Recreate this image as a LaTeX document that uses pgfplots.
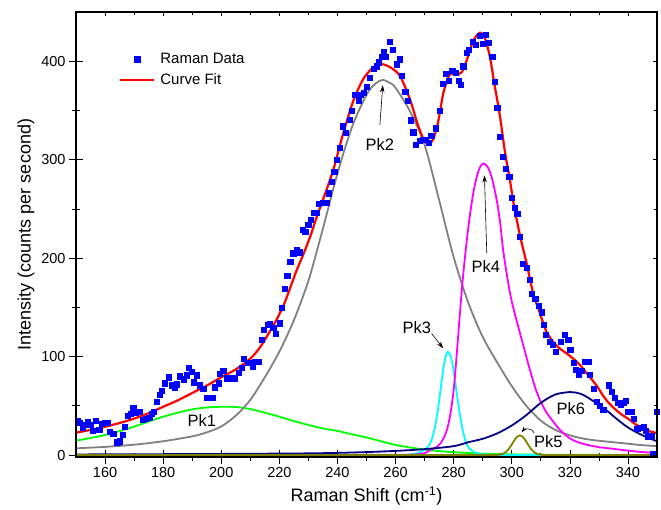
\documentclass[border=0pt]{standalone}
\usepackage{fontspec}
\setmainfont{Liberation Sans}
\usepackage{pgfplots}
\pgfplotsset{compat=1.18}
\usetikzlibrary{arrows.meta}
\definecolor{pkgreen}{RGB}{0,255,0}
\definecolor{pkgray}{RGB}{128,128,128}
\definecolor{pkcyan}{RGB}{0,255,255}
\definecolor{pkmag}{RGB}{255,0,255}
\definecolor{pkolive}{RGB}{128,128,0}
\definecolor{pknavy}{RGB}{0,0,128}
\pgfplotsset{
  legdata/.style={legend image code/.code={\draw[mark repeat=2,mark phase=2,##1] plot coordinates {(0pt,0pt) (17pt,0pt) (34pt,0pt)};}},
  legline/.style={legend image code/.code={\draw[##1] (0pt,0pt) -- (34pt,0pt);}},
  frame/.style={scale only axis, width=581pt, height=445pt,
    xmin=150, xmax=350, ymin=-2, ymax=450,
    xtick={160,180,...,340}, ytick={0,100,...,400},
    minor x tick num=1, minor y tick num=1,
    tick style={black, line width=0.7pt},
    axis line style={black, line width=1.1pt}},
}
\begin{document}
\begin{tikzpicture}
\begin{axis}[
  name=ax, frame,
  tick pos=left,
  tick align=center, major tick length=14pt, minor tick length=8pt,
  xlabel={Raman Shift (cm\textsuperscript{-1})},
  ylabel={Intensity (counts per second)},
  label style={font=\fontsize{18}{21}\selectfont},
  xlabel style={yshift=-2pt},
  tick label style={font=\fontsize{14.5}{17}\selectfont},
  /pgf/number format/assume math mode=true,
  legend style={at={(rel axis cs:0,1)}, anchor=north west, xshift=40pt, yshift=-37pt,
    draw=none, fill=none, font=\fontsize{15}{18}\selectfont, row sep=4.5pt,
    /tikz/every odd column/.append style={column sep=3pt}},
  legend cell align=left,
]
% Pk1
\addplot[pkgreen, line width=1.8pt, smooth, forget plot] coordinates {
(150,14.6)(155,17.3)(160,20.3)(165,24.3)(170,28.8)(175,34)(180,38.9)(185,43)(190,46.4)(195,48.3)(200,49)(205,48.8)(210,46.7)(215,43)(220,38.9)(225,34.5)(230,30.5)(235,27)(240,24.5)(245,21)(250,17.8)(255,14)(260,10.2)(265,7.7)(270,5.5)(275,4)(280,2.9)(285,2.1)(290,1.5)(295,1.0)(300,0.7)(310,0.4)(320,0.2)(335,0.1)(350,0)
};
% Pk2
\addplot[pkgray, line width=1.8pt, smooth, forget plot] coordinates {
(150,6.8)(160,8.3)(170,10.5)(180,14)(190,19)(195,23)(200,29)(205,40)(210,56)(215,79)(220,105)(225,137)(230,177)(235,230)(240,286)(245,333)(250,366)(253,377)(255.5,381)(258,378)(260,373)(265,349)(270,315)(275,259)(280,201)(285,155)(290,120)(295,94)(300,70)(305,50)(310,35)(315,25.5)(320,20)(325,16.5)(330,14.5)(335,13)(340,11.5)(345,10)(350,9)
};
% Pk3
\addplot[pkcyan, line width=1.8pt, smooth, forget plot] coordinates {
(150,0)(200,0)(255,0)(262,0.1)(265,0.5)(267,1.5)(268.5,3)(270,5.5)(271,8)(272,12.5)(273,21)(274,35)(275,55)(276,78)(277,97)(278,105)(279,100)(280,86)(281,64)(282,44)(283,27)(284,15)(285,8.5)(286,5)(287,3)(289,1.2)(292,0.4)(300,0)(350,0)
};
% Pk4
\addplot[pkmag, line width=1.8pt, smooth, forget plot] coordinates {
(150,0)(200,0)(260,0.2)(265,0.4)(268,0.8)(270,2)(272,5)(274,8)(275.5,12)(277,20)(278,29)(279,44)(280,66)(281,100)(282,138)(283,174)(284,204)(285,230)(286,252)(287,270)(288,283)(289,292)(290,296)(291,295)(292,291)(293,283)(294,271)(295,256)(296,236)(297,209)(298,189)(299,171)(300,156)(301,144)(302,133)(303,122)(304,111)(305,100)(306,89)(307,79)(308,69)(309,61)(310,54)(312,43)(314,35)(316,27.5)(318,21.5)(320,17)(322,14)(325,11)(330,8)(335,6.3)(340,4.5)(345,3)(350,2)
};
% Pk6
\addplot[pknavy, line width=1.8pt, smooth, forget plot] coordinates {
(150,0.6)(170,0.8)(190,1.0)(210,1.3)(230,1.7)(240,2.2)(250,3)(260,4.2)(270,6)(280,9)(285,13)(290,16.5)(295,22)(300,30)(305,40.5)(310,53)(315,61.5)(320,64)(322,63.5)(325,60.5)(330,51)(333,44.5)(336,37)(340,28)(345,20)(350,14)
};
% Pk5
\addplot[pkolive, line width=1.8pt, smooth, forget plot] coordinates {
(150,0)(200,0)(250,0)(290,0)(294.8,0.1)(295.8,0.4)(296.8,1.1)(297.8,2.7)(298.8,5.6)(299.8,9.7)(300.8,14.5)(301.8,18.5)(302.8,20)(303.8,18.5)(304.8,14.5)(305.8,9.7)(306.8,5.6)(307.8,2.7)(308.8,1.1)(309.8,0.4)(310.8,0.1)(315,0)(350,0)
};
% Raman data
\addplot[only marks, mark=square*, mark size=2.6pt, blue, mark options={draw=blue, fill=blue}, legdata] coordinates {
(150.5,35)(151.4,33)(152.3,28)(153.1,31)(153.9,34)(155.0,31)(155.7,25)(156.9,35)(158.0,26)(158.8,32)
(160.0,33)(160.9,33)(161.7,24)(162.8,22)(164.2,13)(165.1,14)(166.1,21)(166.9,29)(167.8,40)(168.8,42)
(169.7,48)(170.6,43)(171.8,44)(172.9,36)(174.1,37)(175.2,38)(176.0,42)(176.8,44)(177.8,54)(178.7,61)
(179.6,65)(180.6,73)(181.8,79)(182.9,71)(184.0,69)(184.6,72)(185.8,80)(187.0,77)(188.1,81)(188.9,89)
(189.8,85)(190.6,74)(191.5,81)(192.7,71)(193.8,67)(195.0,58)(196.1,58)(197.0,58)(197.8,69)(199.0,73)
(199.6,83)(200.7,86)(201.9,78)(203.0,78)(204.7,78)(205.9,84)(207.0,89)(207.8,98)(209.0,94)(209.9,94)
(210.8,90)(211.6,95)(212.8,95)(213.9,117)(214.7,127)(215.9,132)(216.8,133)(217.9,129)(218.8,123)(220.0,134)
(220.9,150)(221.8,169)(222.7,182)(223.7,196)(224.8,205)(225.9,208)(226.9,206)(227.9,229)(228.9,227)(229.9,234)
(230.9,239)(231.9,246)(232.8,246)(233.6,255)(234.9,256)(236.1,256)(237.0,266)(238.0,278)(238.9,288)(239.7,300)
(240.7,312)(241.8,334)(242.9,327)(244.1,341)(244.9,350)(246.0,366)(247.2,360)(248.0,366)(249.1,368)(250.0,374)
(251.2,383)(252.6,392)(253.4,395)(254.1,399)(255.2,405)(255.8,410)(256.7,405)(257.9,420)(259.0,412)(260.4,397)
(261.3,402)(262.1,385)(263.3,369)(264.1,360)(265.2,340)(266.1,328)(267.0,315)(268.2,319)(269.3,320)(270.3,320)
(271.3,317)(272.3,324)(273.9,332)(275.3,350)(276.3,377)(277.3,387)(278.4,380)(279.5,390)(280.6,388)(281.6,380)
(282.3,376)(283.3,395)(284.4,409)(285.3,412)(286.6,420)(287.6,417)(288.9,426)(289.9,418)(291.0,427)(292.1,419)
(293.3,405)(294.0,379)(295.0,353)(295.8,323)(296.9,303)(298.0,291)(299.1,283)(300.1,261)(300.9,251)(301.9,245)
(302.7,222)(303.9,194)(305.1,190)(306.1,178)(307.0,164)(308.1,159)(309.3,152)(310.2,145)(311.0,132)(311.8,122)
(313.0,115)(314.1,112)(315.2,105)(316.8,115)(318.2,122)(319.4,117)(320.1,107)(321.2,94)(322.1,87)(323.0,82)
(324.0,86)(325.1,95)(326.3,95)(326.9,82)(328.1,67)(329.2,54)(330.3,50)(331.5,46)(333.3,71)(334.4,64)
(335.5,58)(336.5,53)(337.5,51)(338.5,53)(339.1,55)(339.9,44)(341.1,44)(342.1,37)(343.2,27)(344.1,28)
(345.3,29)(346.2,25)(347.0,19)(348.2,20)(348.7,1)(349.9,44)
};
\addlegendentry{Raman Data}
% Curve fit
\addplot[red, line width=2.2pt, smooth, legline] coordinates {
(150,22.7)(155,25.5)(160,28.8)(165,32.5)(170,37)(175,42.5)(180,49)(185,55.5)(190,63)(195,70.5)(200,79)(205,87)(210,98)(213,108)(215,117)(218,132)(220,143)(222,156)(224,172)(226,188)(228,202)(230,217)(231.1,226)(233,243)(235.1,260)(238.6,290)(242,327)(245.5,360)(248.9,382)(252.4,394)(255.2,397)(258.1,394)(261.5,385)(265,361)(267.5,337)(269.6,321)(271.3,316)(273,321)(274.7,339)(276.4,367)(278.2,384)(279.3,387.5)(281,386.5)(282.8,389)(284.5,401)(286.8,421)(289.1,429)(290.8,423)(292.5,404)(294.2,374)(296,343)(297.7,307)(299.4,279)(300.6,256)(302.9,222)(305.1,195)(307.4,164)(309.7,144)(312,125)(314.3,115)(316.6,108)(319,103)(321.5,97)(323.5,91.4)(325.8,83)(327.5,77)(329.8,68)(331.5,60)(334,51)(337.3,42.3)(340,37)(343,30.5)(347.6,24)(350,22.5)
};
\addlegendentry{Curve Fit}
% annotations
\node[font=\fontsize{16.5}{19}\selectfont] at (axis cs:254.6,315.7) {Pk2};
\draw[-{Stealth[length=7pt,width=4.5pt]}, line width=0.6pt] (axis cs:254.6,335) -- (axis cs:255.6,375.6);
\node[font=\fontsize{16.5}{19}\selectfont] at (axis cs:291.1,191.9) {Pk4};
\draw[-{Stealth[length=7pt,width=4.5pt]}, line width=0.6pt] (axis cs:291.4,205) -- (axis cs:290.6,284);
\node[font=\fontsize{16.5}{19}\selectfont] at (axis cs:267.3,129.6) {Pk3};
\draw[-{Stealth[length=7pt,width=4.5pt]}, line width=0.6pt] (axis cs:272.4,123.5) -- (axis cs:276.4,108.3);
\node[font=\fontsize{16.5}{19}\selectfont] at (axis cs:193.3,35.5) {Pk1};
\node[font=\fontsize{16.5}{19}\selectfont] at (axis cs:320.3,47.4) {Pk6};
\node[font=\fontsize{16.5}{19}\selectfont] at (axis cs:312.6,13.5) {Pk5};
\draw[-{Stealth[length=6pt,width=4pt]}, line width=0.6pt] (axis cs:307.7,22.6) to[out=110,in=50] (axis cs:303.4,23.2);
\end{axis}
\begin{axis}[frame, at={(ax.south west)}, anchor=south west,
  tick pos=right, tick align=inside, major tick length=4pt, minor tick length=3pt,
  xticklabels={}, yticklabels={}]
\end{axis}
\pgfresetboundingbox
\path[use as bounding box] (ax.south west) ++(-76pt,-52pt) rectangle ([xshift=4pt,yshift=12pt]ax.north east);
\end{tikzpicture}
\end{document}
